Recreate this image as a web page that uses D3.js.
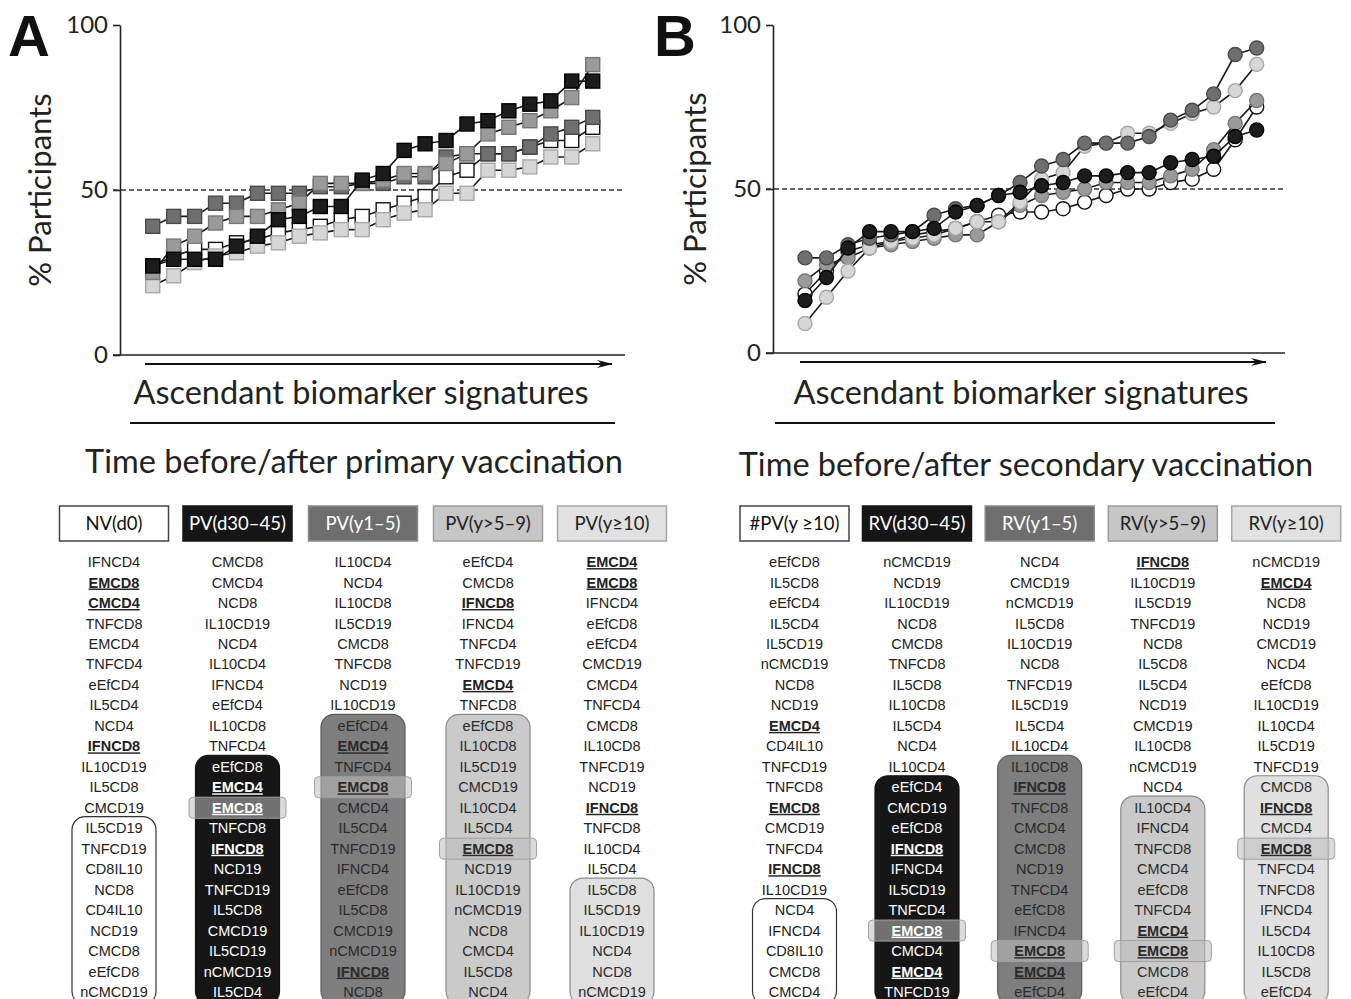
<!DOCTYPE html>
<html>
<head>
<meta charset="utf-8">
<title>Ascendant biomarker signatures</title>
<script src="https://d3js.org/d3.v7.min.js"></script>
<style>
    body { margin: 0; background: #fff; }
    svg { display: block; }
    .lbl { font-family: Lato, "Open Sans", sans-serif; fill: #222; }
    .row { font-family: "Liberation Sans", Arial, sans-serif; font-size: 14.5px; }
</style>
</head>
<body>
<div id="fig"></div>
<script>
// signature rank (ascending)
const ranks = [1,2,3,4,5,6,7,8,9,10,11,12,13,14,15,16,17,18,19,20,21,22];

// panel A - % participants, primary vaccination
const nvD0   = [27,30,32,32,34,35,37,38,39,41,42,44,46,48,54,56,61,61,63,65,65,69];
const pvD30  = [27,29,29,29,33,36,41,42,45,45,53,55,62,64,65,70,71,74,76,77,83,83];
const pvY15  = [39,42,42,46,46,49,49,49,51,51,52,52,54,54,60,61,61,61,63,67,69,72];
const pvY59  = [25,33,36,40,42,42,44,46,52,52,52,53,55,55,58,61,67,69,71,74,78,88];
const pvY10  = [21,24,28,30,31,33,34,36,37,38,38,41,43,44,49,49,56,56,57,60,60,64];

// panel B - % participants, secondary vaccination
const hpvY10 = [18,25,31,33,34,36,37,38,40,42,43,43,44,46,48,50,50,52,53,56,65,75];
const rvD30  = [16,23,32,37,37,37,38,43,45,48,49,51,52,54,54,55,55,58,59,60,66,68];
const rvY15  = [29,29,33,35,36,37,42,44,45,48,52,57,59,64,64,64,66,71,74,79,91,93];
const rvY59  = [22,27,29,32,33,34,35,36,36,40,45,48,49,50,52,52,52,54,56,62,70,77];
const rvY10  = [9,17,25,32,34,35,36,38,40,40,46,53,55,63,64,67,67,70,73,75,80,88];

const yTicks = [0, 50, 100];

// signature lists (* = bold underlined)
const headersA = ["NV(d0)", "PV(d30\u201345)", "PV(y1\u20135)", "PV(y>5\u20139)", "PV(y\u226510)"];
const headersB = ["#PV(y \u226510)", "RV(d30\u201345)", "RV(y1\u20135)", "RV(y>5\u20139)", "RV(y\u226510)"];

const listNV = ["IFNCD4","EMCD8*","CMCD4*","TNFCD8","EMCD4","TNFCD4","eEfCD4","IL5CD4","NCD4","IFNCD8*","IL10CD19","IL5CD8","CMCD19","IL5CD19","TNFCD19","CD8IL10","NCD8","CD4IL10","NCD19","CMCD8","eEfCD8","nCMCD19"];
const listPV30 = ["CMCD8","CMCD4","NCD8","IL10CD19","NCD4","IL10CD4","IFNCD4","eEfCD4","IL10CD8","TNFCD4","eEfCD8","EMCD4*","EMCD8*","TNFCD8","IFNCD8*","NCD19","TNFCD19","IL5CD8","CMCD19","IL5CD19","nCMCD19","IL5CD4"];
const listPV15 = ["IL10CD4","NCD4","IL10CD8","IL5CD19","CMCD8","TNFCD8","NCD19","IL10CD19","eEfCD4","EMCD4*","TNFCD4","EMCD8*","CMCD4","IL5CD4","TNFCD19","IFNCD4","eEfCD8","IL5CD8","CMCD19","nCMCD19","IFNCD8*","NCD8"];
const listPV59 = ["eEfCD4","CMCD8","IFNCD8*","IFNCD4","TNFCD4","TNFCD19","EMCD4*","TNFCD8","eEfCD8","IL10CD8","IL5CD19","CMCD19","IL10CD4","IL5CD4","EMCD8*","NCD19","IL10CD19","nCMCD19","NCD8","CMCD4","IL5CD8","NCD4"];
const listPV10 = ["EMCD4*","EMCD8*","IFNCD4","eEfCD8","eEfCD4","CMCD19","CMCD4","TNFCD4","CMCD8","IL10CD8","TNFCD19","NCD19","IFNCD8*","TNFCD8","IL10CD4","IL5CD4","IL5CD8","IL5CD19","IL10CD19","NCD4","NCD8","nCMCD19"];

const listHPV = ["eEfCD8","IL5CD8","eEfCD4","IL5CD4","IL5CD19","nCMCD19","NCD8","NCD19","EMCD4*","CD4IL10","TNFCD19","TNFCD8","EMCD8*","CMCD19","TNFCD4","IFNCD8*","IL10CD19","NCD4","IFNCD4","CD8IL10","CMCD8","CMCD4"];
const listRV30 = ["nCMCD19","NCD19","IL10CD19","NCD8","CMCD8","TNFCD8","IL5CD8","IL10CD8","IL5CD4","NCD4","IL10CD4","eEfCD4","CMCD19","eEfCD8","IFNCD8*","IFNCD4","IL5CD19","TNFCD4","EMCD8*","CMCD4","EMCD4*","TNFCD19"];
const listRV15 = ["NCD4","CMCD19","nCMCD19","IL5CD8","IL10CD19","NCD8","TNFCD19","IL5CD19","IL5CD4","IL10CD4","IL10CD8","IFNCD8*","TNFCD8","CMCD4","CMCD8","NCD19","TNFCD4","eEfCD8","IFNCD4","EMCD8*","EMCD4*","eEfCD4"];
const listRV59 = ["IFNCD8*","IL10CD19","IL5CD19","TNFCD19","NCD8","IL5CD8","IL5CD4","NCD19","CMCD19","IL10CD8","nCMCD19","NCD4","IL10CD4","IFNCD4","TNFCD8","CMCD4","eEfCD8","TNFCD4","EMCD4*","EMCD8*","CMCD8","eEfCD4"];
const listRV10 = ["nCMCD19","EMCD4*","NCD8","NCD19","CMCD19","NCD4","eEfCD8","IL10CD19","IL10CD4","IL5CD19","TNFCD19","CMCD8","IFNCD8*","CMCD4","EMCD8*","TNFCD4","TNFCD8","IFNCD4","IL5CD4","IL10CD8","IL5CD8","eEfCD4"];

// grey shades per time point: white, black, dark, medium, light
const markFill   = ["#ffffff", "#1c1c1c", "#6f6f6f", "#9a9a9a", "#d6d6d6"];
const markStroke = ["#111111", "#000000", "#4a4a4a", "#777777", "#a8a8a8"];

const svg = d3.select("#fig").append("svg")
    .attr("width", 1351).attr("height", 999);

svg.append("defs").append("marker")
    .attr("id", "arrow")
    .attr("viewBox", "0 0 16 8")
    .attr("refX", 15).attr("refY", 4)
    .attr("markerWidth", 16).attr("markerHeight", 8)
    .attr("markerUnits", "userSpaceOnUse")
    .attr("orient", "auto")
    .append("path")
    .attr("d", "M0,0 L16,4 L0,8 L5,4 Z")
    .style("fill", "#111");

//
// scatter/line panel
//
function panel(opt) {
    const g = svg.append("g");
    const x = d3.scalePoint().domain(ranks).range(opt.xr);
    const y = d3.scaleLinear().domain([0, 100]).range(opt.yr);

    g.append("text").attr("x", opt.letterX).attr("y", 56)
        .style("font-family", "'Liberation Sans', Arial, sans-serif")
        .style("font-weight", "bold").style("font-size", "58px")
        .style("fill", "#111").text(opt.letter);

    // y axis
    const ax = g.append("g").attr("transform", "translate(" + opt.axisX + ",0)")
        .call(d3.axisLeft(y).tickValues(yTicks).tickSize(7).tickSizeOuter(0).tickPadding(5));
    ax.select(".domain").style("stroke", "#222").style("stroke-width", 1.6);
    ax.selectAll(".tick line").style("stroke", "#222").style("stroke-width", 1.6);
    ax.selectAll(".tick text").attr("class", "lbl")
        .style("font-size", "24px").style("fill", "#222");

    g.append("text").attr("class", "lbl")
        .attr("transform", "translate(" + opt.ylabX + "," + ((opt.yr[0] + opt.yr[1]) / 2) + ") rotate(-90)")
        .attr("text-anchor", "middle").attr("dy", "0.35em")
        .style("font-size", "31px").text("% Participants");

    // baseline and 50% reference
    g.append("line").attr("x1", opt.axisX - 7).attr("x2", opt.xEnd)
        .attr("y1", y(0)).attr("y2", y(0))
        .style("stroke", "#222").style("stroke-width", 1.6);
    g.append("line").attr("x1", opt.axisX - 7).attr("x2", opt.xEnd)
        .attr("y1", y(50)).attr("y2", y(50))
        .style("stroke", "#333").style("stroke-width", 1.3)
        .style("stroke-dasharray", "5,3");

    // arrow under axis
    g.append("line").attr("x1", opt.arrow[0]).attr("x2", opt.arrow[1])
        .attr("y1", y(0) + 9).attr("y2", y(0) + 9)
        .style("stroke", "#111").style("stroke-width", 2.2)
        .attr("marker-end", "url(#arrow)");

    const line = d3.line().x((d, i) => x(ranks[i])).y(d => y(d));

    opt.series.forEach(function(s, k) {
        const sg = g.append("g");
        sg.append("path").datum(s).attr("d", line)
            .style("fill", "none").style("stroke", "#1a1a1a").style("stroke-width", 1.6);
        if (opt.shape === "square") {
            sg.selectAll("rect").data(s).join("rect")
                .attr("x", (d, i) => x(ranks[i]) - 7)
                .attr("y", d => y(d) - 7)
                .attr("width", 14).attr("height", 14)
                .style("fill", markFill[opt.order[k]])
                .style("stroke", markStroke[opt.order[k]]).style("stroke-width", 1.4);
        } else {
            sg.selectAll("circle").data(s).join("circle")
                .attr("cx", (d, i) => x(ranks[i]))
                .attr("cy", d => y(d))
                .attr("r", 7)
                .style("fill", markFill[opt.order[k]])
                .style("stroke", markStroke[opt.order[k]]).style("stroke-width", 1.4);
        }
    });

    g.append("text").attr("class", "lbl")
        .attr("x", opt.captionX).attr("y", 404).attr("text-anchor", "middle")
        .style("font-size", "32.5px").text("Ascendant biomarker signatures");
    g.append("line").attr("x1", opt.rule[0]).attr("x2", opt.rule[1])
        .attr("y1", 423).attr("y2", 423)
        .style("stroke", "#111").style("stroke-width", 2.2);
    g.append("text").attr("class", "lbl")
        .attr("x", opt.titleX).attr("y", opt.titleY).attr("text-anchor", "middle")
        .style("font-size", "32.5px").text(opt.title);
}

panel({
    letter: "A", letterX: 8, axisX: 120, ylabX: 40, xEnd: 625,
    xr: [152.7, 592.7], yr: [355, 25], arrow: [145, 612],
    captionX: 361, rule: [130, 615], title: "Time before/after primary vaccination", titleX: 354, titleY: 473,
    shape: "square",
    series: [nvD0, pvY10, pvY15, pvY59, pvD30], order: [0, 4, 2, 3, 1]
});

panel({
    letter: "B", letterX: 654, axisX: 773, ylabX: 695, xEnd: 1285,
    xr: [805, 1256.7], yr: [353, 25], arrow: [800, 1266],
    captionX: 1021, rule: [775, 1275], title: "Time before/after secondary vaccination", titleX: 1026, titleY: 476,
    shape: "circle",
    series: [hpvY10, rvY59, rvY10, rvY15, rvD30], order: [0, 3, 4, 2, 1]
});

//
// signature tables
//
const rowY = d3.scaleLinear().domain([0, 21]).range([562, 992]);

const headStyle = [
    { fill: "#ffffff", stroke: "#444", text: "#111" },
    { fill: "#161616", stroke: "#161616", text: "#fff" },
    { fill: "#6e6e6e", stroke: "#8a8a8a", text: "#fff" },
    { fill: "#c6c6c6", stroke: "#9a9a9a", text: "#222" },
    { fill: "#e1e1e1", stroke: "#a6a6a6", text: "#222" }
];
const boxStyle = [
    { fill: "#ffffff", stroke: "#333", text: "#222" },
    { fill: "#161616", stroke: "#111", text: "#fff" },
    { fill: "#7e7e7e", stroke: "#5a5a5a", text: "#2a2a2a" },
    { fill: "#cacaca", stroke: "#8a8a8a", text: "#2a2a2a" },
    { fill: "#e0e0e0", stroke: "#8a8a8a", text: "#2a2a2a" }
];

function table(headers, lists, centers, boxStart, highlight) {
    const g = svg.append("g");
    headers.forEach(function(h, c) {
        const cx = centers[c];
        g.append("rect").attr("x", cx - 54.5).attr("y", 506).attr("width", 109).attr("height", 35)
            .style("fill", headStyle[c].fill).style("stroke", headStyle[c].stroke).style("stroke-width", 1.5);
        g.append("text").attr("class", "lbl").attr("x", cx).attr("y", 524)
            .attr("text-anchor", "middle").attr("dy", "0.35em")
            .style("font-size", "18.5px").style("fill", headStyle[c].text).text(h);

        const b = boxStart[c];
        g.append("rect").attr("x", cx - 42).attr("y", rowY(b) - 11.5)
            .attr("width", 84).attr("height", rowY(21) - rowY(b) + 24)
            .attr("rx", 13).attr("ry", 13)
            .style("fill", boxStyle[c].fill).style("stroke", boxStyle[c].stroke).style("stroke-width", 1.2);

        if (highlight[c] !== null) {
            g.append("rect").attr("x", cx - 48.5).attr("y", rowY(highlight[c]) - 10.5)
                .attr("width", 97).attr("height", 21).attr("rx", 4)
                .style("fill", "#bdbdbd").style("fill-opacity", 0.55)
                .style("stroke", "#a0a0a0").style("stroke-width", 1);
        }

        g.selectAll(null).data(lists[c]).join("text")
            .attr("class", "row")
            .attr("x", cx).attr("y", (d, i) => rowY(i))
            .attr("dy", "0.35em").attr("text-anchor", "middle")
            .style("fill", (d, i) => i >= b ? boxStyle[c].text : "#222")
            .style("font-weight", d => d.endsWith("*") ? "bold" : "normal")
            .style("text-decoration", d => d.endsWith("*") ? "underline" : "none")
            .text(d => d.replace("*", ""));
    });
}

table(headersA, [listNV, listPV30, listPV15, listPV59, listPV10],
      [114, 237.5, 363, 488, 612], [13, 10, 8, 8, 16], [null, 12, 11, 14, null]);
table(headersB, [listHPV, listRV30, listRV15, listRV59, listRV10],
      [794.5, 917, 1039.7, 1162.8, 1286.2], [17, 11, 10, 12, 11], [null, 18, 19, 19, 14]);
</script>
</body>
</html>
